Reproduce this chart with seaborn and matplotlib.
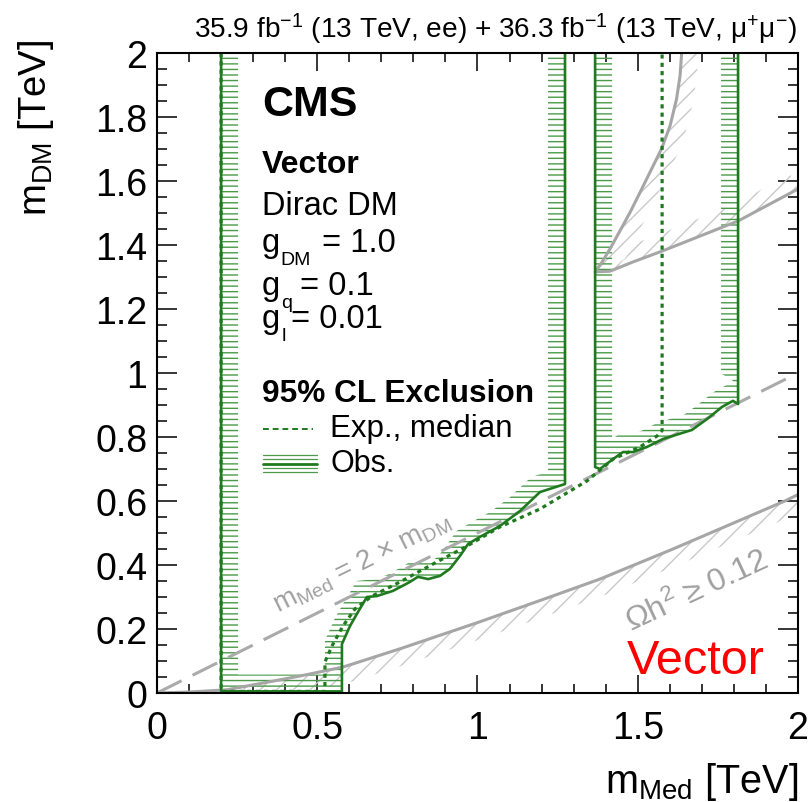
import numpy as np
import matplotlib
matplotlib.use("Agg")
import matplotlib.pyplot as plt
import seaborn as sns
from matplotlib.patches import Polygon

# ---------------- data (TeV) ----------------
# observed exclusion, left island
obs1_x = [0.200, 0.200, 0.577, 0.577, 0.602, 0.627, 0.655, 0.686, 0.736, 0.789, 0.814, 0.846,
          0.883, 0.914, 0.945, 0.971, 1.008, 1.070, 1.133, 1.195, 1.273, 1.273]
obs1_y = [2.000, 0.005, 0.005, 0.153, 0.209, 0.253, 0.300, 0.303, 0.319, 0.347, 0.363, 0.356,
          0.366, 0.388, 0.428, 0.466, 0.488, 0.522, 0.569, 0.628, 0.653, 2.000]
# observed exclusion, right island
obs2_x = [1.367, 1.367, 1.382, 1.423, 1.454, 1.485, 1.529, 1.579, 1.669, 1.716, 1.763, 1.797,
          1.813, 1.813]
obs2_y = [2.000, 0.706, 0.700, 0.731, 0.753, 0.753, 0.769, 0.794, 0.822, 0.856, 0.894, 0.913,
          0.903, 2.000]
# expected (median) exclusion
exp_x = [0.200, 0.200, 0.524, 0.524, 0.546, 0.580, 0.618, 0.671, 0.758, 0.861, 0.967, 1.070,
         1.195, 1.342, 1.423, 1.507, 1.560, 1.576, 1.576]
exp_y = [2.000, 0.005, 0.005, 0.097, 0.147, 0.209, 0.263, 0.303, 0.347, 0.403, 0.459, 0.519,
         0.575, 0.663, 0.731, 0.769, 0.803, 0.820, 2.000]
# relic density (Omega h^2 = 0.12) contours
relic_lo_x = [0.000, 0.100, 0.218, 0.446, 0.580, 0.758, 1.000, 1.226, 1.382, 1.610, 1.959, 2.000]
relic_lo_y = [0.000, 0.003, 0.010, 0.053, 0.081, 0.138, 0.220, 0.300, 0.356, 0.450, 0.600, 0.620]
relic_hi_x = [1.637, 1.632, 1.621, 1.601, 1.574, 1.538, 1.507, 1.476, 1.445, 1.413, 1.388, 1.367,
              1.413, 1.485, 1.576, 1.813, 2.000]
relic_hi_y = [2.000, 1.929, 1.856, 1.773, 1.700, 1.627, 1.564, 1.502, 1.445, 1.387, 1.346, 1.316,
              1.318, 1.347, 1.381, 1.475, 1.575]
# diagonal m_Med = 2 m_DM
diag_x = [0.0, 2.0]
diag_y = [0.0, 1.0]

xticks = [0, 0.5, 1, 1.5, 2]
xticklabels = ["0", "0.5", "1", "1.5", "2"]
yticks = [0, 0.2, 0.4, 0.6, 0.8, 1.0, 1.2, 1.4, 1.6, 1.8, 2.0]
yticklabels = ["0", "0.2", "0.4", "0.6", "0.8", "1", "1.2", "1.4", "1.6", "1.8", "2"]

# ---------------- style ----------------
sns.set_theme(style="ticks")
plt.rcParams["font.family"] = ["Liberation Sans", "DejaVu Sans"]
plt.rcParams["mathtext.fontset"] = "custom"
plt.rcParams["mathtext.rm"] = "Liberation Sans"
plt.rcParams["mathtext.it"] = "Liberation Sans:italic"
plt.rcParams["mathtext.bf"] = "Liberation Sans:bold"
plt.rcParams["hatch.linewidth"] = 1.0
for k in ["text.color", "axes.labelcolor", "xtick.color", "ytick.color", "axes.edgecolor",
          "xtick.labelcolor", "ytick.labelcolor"]:
    plt.rcParams[k] = "black"

GREEN = "#1f7a1f"
GREEN_H = "#4a9a4a"
GRAY = "#a6a6a6"
GRAY_H = "#c8c8c8"

W, H = 812, 803
fig = plt.figure(figsize=(W / 100, H / 100), dpi=100)
L, R, T, B = 157, 798, 54, 694
ax = fig.add_axes([L / W, 1 - B / H, (R - L) / W, (B - T) / H])


def fx(px):
    return (px - L) / (R - L)


def fy(py):
    return (B - py) / (B - T)


def band(xs, ys, w, side=1):
    pts = np.column_stack([xs, ys]).astype(float)
    d = np.diff(pts, axis=0)
    ln = np.hypot(d[:, 0], d[:, 1])
    t = d / ln[:, None]
    n = np.column_stack([-t[:, 1], t[:, 0]]) * side
    vn = np.zeros_like(pts)
    vn[0] = n[0]
    vn[-1] = n[-1]
    for i in range(1, len(pts) - 1):
        den = 1 + np.dot(n[i - 1], n[i])
        if den < 0.3:
            vn[i] = n[i]
        else:
            vn[i] = (n[i - 1] + n[i]) / den
    off = pts + w * vn
    return np.vstack([pts, off[::-1]])


# hatched bands
for xs, ys, side in [(relic_lo_x, relic_lo_y, -1), (relic_hi_x, relic_hi_y, 1)]:
    ax.add_patch(Polygon(band(xs, ys, 0.052, side), closed=True, facecolor="none",
                         edgecolor=GRAY_H, linewidth=0, hatch="//", zorder=1))
for xs, ys in [(obs1_x, obs1_y), (obs2_x, obs2_y)]:
    ax.add_patch(Polygon(band(xs, ys, 0.053, 1), closed=True, facecolor="none",
                         edgecolor=GREEN_H, linewidth=0, hatch="---", zorder=2))

# lines
sns.lineplot(x=relic_lo_x, y=relic_lo_y, sort=False, estimator=None, color=GRAY, lw=2.2, ax=ax, zorder=3)
sns.lineplot(x=relic_hi_x, y=relic_hi_y, sort=False, estimator=None, color=GRAY, lw=2.2, ax=ax, zorder=3)
sns.lineplot(x=diag_x, y=diag_y, sort=False, estimator=None, color="#aaaaaa", lw=2.2, ax=ax,
             zorder=3, linestyle=(0, (9, 4)))
sns.lineplot(x=exp_x, y=exp_y, sort=False, estimator=None, color=GREEN, lw=2.3, ax=ax, zorder=4,
             linestyle=(0, (1.3, 1.3)))
sns.lineplot(x=obs1_x, y=obs1_y, sort=False, estimator=None, color=GREEN, lw=1.9, ax=ax, zorder=5)
sns.lineplot(x=obs2_x, y=obs2_y, sort=False, estimator=None, color=GREEN, lw=1.9, ax=ax, zorder=5)

# axes
ax.set_xlim(0, 2)
ax.set_ylim(0, 2)
ax.set_xticks(xticks)
ax.set_xticklabels(xticklabels)
ax.set_yticks(yticks)
ax.set_yticklabels(yticklabels)
ax.set_xticks(np.arange(0, 2.001, 0.1), minor=True)
ax.set_yticks(np.arange(0, 2.001, 0.05), minor=True)
for s in ax.spines.values():
    s.set_linewidth(1.5)
    s.set_color("black")
    s.set_zorder(10)
ax.tick_params(which="both", direction="in", top=True, right=True, width=1.1, color="black",
               labelsize=27, labelcolor="black")
ax.tick_params(axis="x", which="major", length=13, pad=12)
ax.tick_params(axis="x", which="minor", length=6.5)
ax.tick_params(axis="y", which="major", length=14.4, pad=7)
ax.tick_params(axis="y", which="minor", length=7.2)

ax.set_xlabel(r"m$_{\mathrm{Med}}$ [TeV]", fontsize=28.5, ha="right", va="baseline")
ax.xaxis.set_label_coords(1.0, fy(793))
ax.set_ylabel(r"m$_{\mathrm{DM}}$ [TeV]", fontsize=27.5, ha="right", va="center")
ax.yaxis.set_label_coords(fx(36), fy(40))

# header
ax.text(fx(797), fy(38), r"35.9 fb$^{-1}$ (13 TeV, ee) + 36.3 fb$^{-1}$ (13 TeV, μ$^{+}$μ$^{-}$)",
        transform=ax.transAxes, ha="right", va="baseline", fontsize=20.2)

tk = dict(transform=ax.transAxes, ha="left", va="baseline")
ax.text(fx(262), fy(116), "CMS", fontsize=31, fontweight="bold", **tk)
ax.text(fx(262), fy(173), "Vector", fontsize=23, fontweight="bold", **tk)
ax.text(fx(262), fy(215), "Dirac DM", fontsize=23.5, **tk)


def coupling(base_py, sub, sub_px, rest, rest_px):
    ax.text(fx(262), fy(base_py), "g", fontsize=23.5, **tk)
    ax.text(fx(sub_px), fy(base_py + 13), sub, fontsize=14, **tk)
    ax.text(fx(rest_px), fy(base_py), rest, fontsize=23.5, **tk)


coupling(252, "DM", 280, "= 1.0", 322)
coupling(295, "q", 281, "= 0.1", 300)
coupling(328, "l", 282, "= 0.01", 291)

ax.text(fx(262), fy(402), "95% CL Exclusion", fontsize=22.8, fontweight="bold", **tk)
ax.text(fx(330), fy(437), "Exp., median", fontsize=22.5, **tk)
ax.text(fx(330), fy(472), "Obs.", fontsize=22, **tk)
ax.plot([fx(263), fx(313)], [fy(430), fy(430)], transform=ax.transAxes, color=GREEN, lw=1.4,
        linestyle=(0, (3, 2)), clip_on=False)
ax.plot([fx(263), fx(317)], [fy(465), fy(465)], transform=ax.transAxes, color=GREEN, lw=2.0)
for dy in (-9, -5, 4, 8):
    ax.plot([fx(263), fx(317)], [fy(465 + dy), fy(465 + dy)], transform=ax.transAxes,
            color=GREEN_H, lw=0.9)

ax.text(fx(627), fy(674), "Vector", fontsize=35, color="red", **tk)
ax.text(fx(697), fy(592), "Ωh$^{2}$ ≥ 0.12", fontsize=23, color="#a0a0a0", rotation=25,
        transform=ax.transAxes, ha="center", va="center", rotation_mode="anchor")
ax.text(fx(362), fy(563), r"m$_{\mathrm{Med}}$ = 2 × m$_{\mathrm{DM}}$", fontsize=20,
        color="#a0a0a0", rotation=26.5, transform=ax.transAxes, ha="center", va="center",
        rotation_mode="anchor")

fig.savefig("out.png", dpi=100)
